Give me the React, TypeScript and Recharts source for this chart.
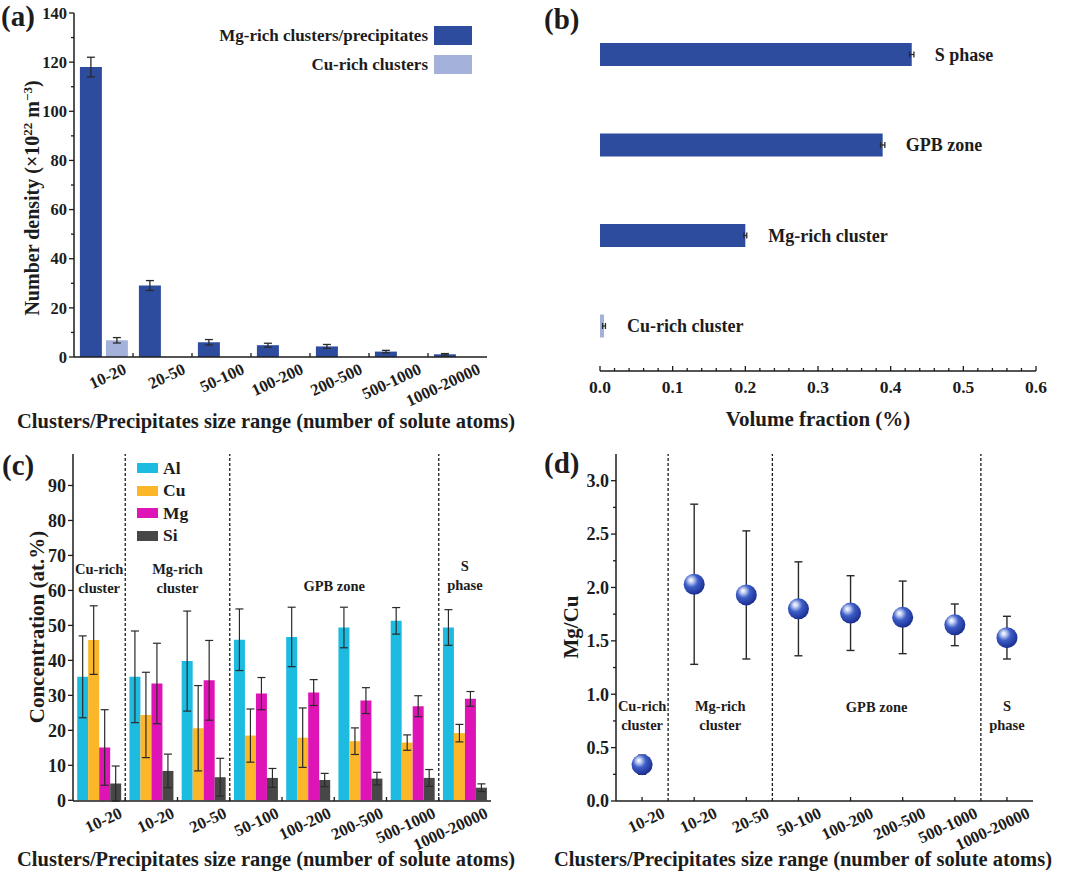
import React from 'react';
import {
  BarChart, Bar, XAxis, YAxis, ErrorBar, Cell, Legend, ReferenceLine,
  ReferenceArea, ComposedChart, Line, LabelList,
} from 'recharts';

const SERIF = '"Liberation Serif", "Times New Roman", Times, serif';
const INK = '#1c1c1c';
const ERR = '#2a2a2a';

// ---------- Panel (a) ----------
const sizeRanges = ['10-20', '20-50', '50-100', '100-200', '200-500', '500-1000', '1000-20000'];
const mgRichDensity = [118, 29.1, 6.0, 4.8, 4.3, 2.2, 1.1];
const mgRichDensityErr = [4.0, 2.0, 1.1, 0.8, 0.8, 0.5, 0.3];
const cuRichDensity = [6.8, null, null, null, null, null, null];
const cuRichDensityErr = [1.1, null, null, null, null, null, null];
const densityTicks = [0, 10, 20, 30, 40, 50, 60, 70, 80, 90, 100, 110, 120, 130, 140];
const densitySeriesOrder = ['Mg-rich clusters/precipitates', 'Cu-rich clusters'];

// ---------- Panel (b) ----------
const phaseNames = ['S phase', 'GPB zone', 'Mg-rich cluster', 'Cu-rich cluster'];
const volumeFraction = [0.429, 0.389, 0.2, 0.0055];
const volumeFractionErr = [0.003, 0.003, 0.002, 0.002];
const fractionTicks = [0, 0.02, 0.04, 0.06, 0.08, 0.1, 0.12, 0.14, 0.16, 0.18, 0.2, 0.22, 0.24, 0.26, 0.28, 0.3,
  0.32, 0.34, 0.36, 0.38, 0.4, 0.42, 0.44, 0.46, 0.48, 0.5, 0.52, 0.54, 0.56, 0.58, 0.6];

// ---------- Panel (c) ----------
const groupIds = ['g1', 'g2', 'g3', 'g4', 'g5', 'g6', 'g7', 'g8'];
const groupLabels = ['10-20', '10-20', '20-50', '50-100', '100-200', '200-500', '500-1000', '1000-20000'];
const alConc = [35.3, 35.3, 39.8, 45.9, 46.7, 49.4, 51.3, 49.4];
const alConcErr = [11.7, 13.1, 14.3, 8.8, 8.5, 5.8, 3.8, 5.1];
const cuConc = [45.8, 24.4, 20.6, 18.5, 17.9, 16.9, 16.5, 19.2];
const cuConcErr = [9.8, 12.2, 12.2, 7.6, 8.5, 3.8, 2.2, 2.5];
const mgConc = [15.1, 33.4, 34.3, 30.5, 30.8, 28.5, 26.9, 29.0];
const mgConcErr = [10.8, 11.5, 11.4, 4.6, 3.7, 3.7, 3.0, 2.1];
const siConc = [4.8, 8.4, 6.6, 6.4, 5.8, 6.2, 6.4, 3.6];
const siConcErr = [5.0, 4.8, 5.4, 2.7, 1.9, 1.8, 2.4, 1.1];
const concTicks = [0, 10, 20, 30, 40, 50, 60, 70, 80, 90];
const elementOrder = ['Al', 'Cu', 'Mg', 'Si'];

// ---------- Panel (d) ----------
const mgCuRatio = [0.34, 2.03, 1.93, 1.8, 1.76, 1.72, 1.65, 1.53];
const mgCuRatioErr = [0.09, 0.75, 0.6, 0.44, 0.35, 0.34, 0.195, 0.2];
const ratioTicks = [0, 0.25, 0.5, 0.75, 1, 1.25, 1.5, 1.75, 2, 2.25, 2.5, 2.75, 3];

// ---------- Regions (c, d) ----------
const regionLines = [['Cu-rich', 'cluster'], ['Mg-rich', 'cluster'], ['GPB zone'], ['S', 'phase']];
const regionFirst = ['g1', 'g2', 'g4', 'g8'];
const regionLast = ['g1', 'g3', 'g7', 'g8'];
const regionDividers = ['g2', 'g4', 'g8'];

// colours
const MG_BLUE = '#2D4C9E';
const CU_BLUE = '#A4B1DB';
const AL_C = '#1DBBE0';
const CU_C = '#FBB62A';
const MG_C = '#DF14B6';
const SI_C = '#474747';

const densityData = sizeRanges.map((r, i) => ({
  range: r, mg: mgRichDensity[i], mgErr: mgRichDensityErr[i], cu: cuRichDensity[i], cuErr: cuRichDensityErr[i],
}));
const fractionData = phaseNames.map((p, i) => ({ phase: p, vf: volumeFraction[i], vfErr: volumeFractionErr[i] }));
const concData = groupIds.map((g, i) => ({
  id: g, al: alConc[i], alErr: alConcErr[i], cu: cuConc[i], cuErr: cuConcErr[i],
  mg: mgConc[i], mgErr: mgConcErr[i], si: siConc[i], siErr: siConcErr[i],
}));
const ratioData = groupIds.map((g, i) => ({ id: g, r: mgCuRatio[i], rErr: mgCuRatioErr[i] }));

const axisLine = { stroke: INK, strokeWidth: 1.5 };
const txt = { fontFamily: SERIF, fontWeight: 'bold' as const, fill: INK };

const sortBy = (order: string[]) => (a: any, b: any) => order.indexOf(a.value) - order.indexOf(b.value);

// ---------- tick renderers ----------
const makeYTick = (o: { isMajor: (v: number) => boolean; fmt: (v: number) => string; fontSize: number; gap: number }) =>
  (props: any) => {
    const { x, y, payload } = props;
    const v = payload.value;
    const major = o.isMajor(v);
    return (
      <g>
        <line x1={x} x2={x - (major ? 5 : 3)} y1={y} y2={y} stroke={INK} strokeWidth={1.3} />
        {major && (
          <text x={x - o.gap} y={y} dy="0.35em" textAnchor="end" fontSize={o.fontSize} {...txt}>{o.fmt(v)}</text>
        )}
      </g>
    );
  };

const makeCatTick = (labels: string[] | null, tickAt: 'boundary' | 'center') => (props: any) => {
  const { x, y, payload, index } = props;
  const i = payload && typeof payload.index === 'number' ? payload.index : index;
  const off = payload && typeof payload.offset === 'number' ? payload.offset : 0;
  const label = labels ? labels[i] : payload.value;
  const tx = tickAt === 'boundary' ? x - off : x;
  const showTick = tickAt === 'center' || i > 0;
  const ax = x + 24;
  const ay = y + 16;
  return (
    <g>
      {showTick && <line x1={tx} x2={tx} y1={y} y2={y - 4} stroke={INK} strokeWidth={1.3} />}
      <text x={ax} y={ay} textAnchor="end" transform={`rotate(-25 ${ax} ${ay})`} fontSize={16.5} {...txt}>{label}</text>
    </g>
  );
};

const fractionTick = (props: any) => {
  const { x, y, payload } = props;
  const v = payload.value;
  const major = Math.abs(v * 10 - Math.round(v * 10)) < 1e-6;
  return (
    <g>
      <line x1={x} x2={x} y1={y} y2={y - (major ? 5 : 3)} stroke={INK} strokeWidth={1.3} />
      {major && <text x={x} y={y + 22} textAnchor="middle" fontSize={17.5} {...txt}>{v.toFixed(1)}</text>}
    </g>
  );
};

const phaseTick = (props: any) => {
  const { x, y, payload } = props;
  const off = payload && typeof payload.offset === 'number' ? payload.offset : 0;
  const i = payload && typeof payload.index === 'number' ? payload.index : 0;
  return (
    <g>
      <line x1={x} x2={x + 3} y1={y} y2={y} stroke={INK} strokeWidth={1.5} />
      {i > 0 && <line x1={x} x2={x + 3} y1={y - off} y2={y - off} stroke={INK} strokeWidth={1.5} />}
    </g>
  );
};

// ---------- titles (positions in chart pixels) ----------
const xTitle = (text: string, cx: number, baseline: number, size = 20.5) => () => (
  <text x={cx} y={baseline} textAnchor="middle" fontSize={size} {...txt}>{text}</text>
);

const yTitle = (content: React.ReactNode, bx: number, cy: number, size = 21) => () => (
  <text x={bx} y={cy} textAnchor="middle" transform={`rotate(-90 ${bx} ${cy})`} fontSize={size} {...txt}>{content}</text>
);

const regionLabel = (lines: string[]) => (p: any) => {
  const vb = p.viewBox || {};
  const cx = vb.x + (vb.width || 0) / 2;
  const cy = vb.y + (vb.height || 0) / 2;
  if (lines.length === 1) {
    return <text x={cx} y={cy} dy={5} textAnchor="middle" fontSize={14.5} {...txt}>{lines[0]}</text>;
  }
  return (
    <text textAnchor="middle" fontSize={14.5} {...txt}>
      <tspan x={cx} y={cy - 4.5}>{lines[0]}</tspan>
      <tspan x={cx} y={cy + 14}>{lines[1]}</tspan>
    </text>
  );
};

const Sphere = (props: any) => {
  const { cx, cy, index } = props;
  if (cx == null || cy == null) return <g key={`s${index}`} />;
  const id = `sph${index}`;
  return (
    <g key={`s${index}`}>
      <defs>
        <radialGradient id={id} cx="40%" cy="36%" r="68%" fx="34%" fy="30%">
          <stop offset="0%" stopColor="#ffffff" />
          <stop offset="16%" stopColor="#c9d4f3" />
          <stop offset="46%" stopColor="#3d5ec8" />
          <stop offset="100%" stopColor="#17298a" />
        </radialGradient>
      </defs>
      <circle cx={cx} cy={cy} r={10.5} fill={`url(#${id})`} />
    </g>
  );
};

// ---------- panels ----------
function PanelA() {
  return (
    <BarChart width={540} height={440} data={densityData} margin={{ top: 13, right: 53, bottom: 0, left: 0 }}
      barCategoryGap="10%" barGap={4}>
      <XAxis dataKey="range" height={83} interval={0} tickLine={false} tickSize={0} tickMargin={0}
        axisLine={axisLine} tick={makeCatTick(null, 'boundary')}
        label={{ content: xTitle('Clusters/Precipitates size range (number of solute atoms)', 266, 428) }} />
      <XAxis xAxisId="top" orientation="top" dataKey="range" height={0} tick={false} tickLine={false} axisLine={axisLine} />
      <YAxis width={74} domain={[0, 140]} ticks={densityTicks} interval={0} tickSize={0} tickMargin={0}
        tickLine={false} axisLine={axisLine}
        tick={makeYTick({ isMajor: (v) => v % 20 === 0, fmt: (v) => String(v), fontSize: 16.5, gap: 7 })}
        label={{
          content: yTitle(
            <>
              Number density (×10
              <tspan baselineShift="7" fontSize={13}>22</tspan>
              {' m'}
              <tspan baselineShift="7" fontSize={13}>−3</tspan>
              )
            </>, 39, 198, 20),
        }} />
      <YAxis yAxisId="right" orientation="right" width={0} domain={[0, 140]} tick={false} tickLine={false} axisLine={axisLine} />
      <Bar dataKey="mg" name="Mg-rich clusters/precipitates" fill={MG_BLUE} isAnimationActive={false}>
        <ErrorBar dataKey="mgErr" width={4} stroke={ERR} strokeWidth={1.3} />
      </Bar>
      <Bar dataKey="cu" name="Cu-rich clusters" fill={CU_BLUE} isAnimationActive={false}>
        <ErrorBar dataKey="cuErr" width={4} stroke={ERR} strokeWidth={1.3} />
      </Bar>
      <Legend layout="vertical" align="center" verticalAlign="middle" wrapperStyle={{ top: 21, right: 68 }}
        content={(p: any) => (
          <div style={{ fontFamily: SERIF, fontWeight: 'bold', fontSize: 17, color: INK }}>
            {[...(p.payload || [])].sort(sortBy(densitySeriesOrder)).map((e: any) => (
              <div key={e.value} style={{ display: 'flex', alignItems: 'center', justifyContent: 'flex-end', height: 29 }}>
                <span style={{ marginRight: 6, whiteSpace: 'nowrap' }}>{e.value}</span>
                <span style={{ display: 'inline-block', width: 38, height: 19, background: e.color }} />
              </div>
            ))}
          </div>
        )} />
    </BarChart>
  );
}

function PanelB() {
  return (
    <BarChart width={540} height={440} data={fractionData} layout="vertical"
      margin={{ top: 9, right: 44, bottom: 0, left: 60 }}>
      <XAxis type="number" domain={[0, 0.6]} ticks={fractionTicks} interval={0} height={69}
        tickSize={0} tickMargin={0} tickLine={false} axisLine={axisLine} tick={fractionTick}
        label={{ content: xTitle('Volume fraction (%)', 278, 426, 21) }} />
      <XAxis xAxisId="top" type="number" orientation="top" domain={[0, 0.6]} height={0} tick={false} tickLine={false} axisLine={axisLine} />
      <YAxis type="category" dataKey="phase" width={0} interval={0} tickSize={0} tickMargin={0} tickLine={false}
        axisLine={axisLine} tick={phaseTick} />
      <YAxis yAxisId="right" type="category" dataKey="phase" orientation="right" width={0} tick={false} tickLine={false} axisLine={axisLine} />
      <Bar dataKey="vf" barSize={23} isAnimationActive={false}>
        {fractionData.map((d, i) => (
          <Cell key={d.phase} fill={i === 3 ? CU_BLUE : MG_BLUE} />
        ))}
        <ErrorBar dataKey="vfErr" direction="x" width={3} stroke={ERR} strokeWidth={1.3} />
        <LabelList dataKey="phase" content={(p: any) => {
          const vb = p.viewBox || p;
          return (
            <text x={vb.x + vb.width + 23} y={vb.y + vb.height / 2} dy="0.35em" textAnchor="start" fontSize={18} {...txt}>
              {p.value}
            </text>
          );
        }} />
      </Bar>
    </BarChart>
  );
}

const regionY_C = [63.4, 63.4, 61.3, 64.2];
const regionY_D = [0.8, 0.8, 0.88, 0.8];

function PanelC() {
  return (
    <BarChart width={540} height={432} data={concData} margin={{ top: 14, right: 49, bottom: 0, left: 0 }}
      barCategoryGap="8%" barGap={0}>
      <XAxis dataKey="id" height={71} interval={0} tickLine={false} tickSize={0} tickMargin={0}
        axisLine={axisLine} tick={makeCatTick(groupLabels, 'boundary')}
        label={{ content: xTitle('Clusters/Precipitates size range (number of solute atoms)', 266, 426) }} />
      <XAxis xAxisId="top" orientation="top" dataKey="id" height={0} tick={false} tickLine={false} axisLine={axisLine} />
      <YAxis width={73} domain={[0, 99]} ticks={concTicks} interval={0} tickSize={0} tickMargin={0}
        tickLine={false} axisLine={axisLine}
        tick={makeYTick({ isMajor: () => true, fmt: (v) => String(v), fontSize: 18, gap: 7 })}
        label={{ content: yTitle('Concentration (at.%)', 44, 187) }} />
      <YAxis yAxisId="right" orientation="right" width={0} domain={[0, 99]} tick={false} tickLine={false} axisLine={axisLine} />
      {regionDividers.map((g) => (
        <ReferenceLine key={g} x={g} position="start" stroke={INK} strokeWidth={1.3} strokeDasharray="3 2" ifOverflow="visible" />
      ))}
      {regionLines.map((lines, i) => (
        <ReferenceArea key={i} x1={regionFirst[i]} x2={regionLast[i]} y1={regionY_C[i] - 0.5} y2={regionY_C[i] + 0.5}
          fill="none" stroke="none" ifOverflow="visible" label={{ content: regionLabel(lines) }} />
      ))}
      <Bar dataKey="al" name="Al" fill={AL_C} isAnimationActive={false}>
        <ErrorBar dataKey="alErr" width={4} stroke={ERR} strokeWidth={1.2} />
      </Bar>
      <Bar dataKey="cu" name="Cu" fill={CU_C} isAnimationActive={false}>
        <ErrorBar dataKey="cuErr" width={4} stroke={ERR} strokeWidth={1.2} />
      </Bar>
      <Bar dataKey="mg" name="Mg" fill={MG_C} isAnimationActive={false}>
        <ErrorBar dataKey="mgErr" width={4} stroke={ERR} strokeWidth={1.2} />
      </Bar>
      <Bar dataKey="si" name="Si" fill={SI_C} isAnimationActive={false}>
        <ErrorBar dataKey="siErr" width={4} stroke={ERR} strokeWidth={1.2} />
      </Bar>
      <Legend layout="vertical" align="center" verticalAlign="middle" wrapperStyle={{ top: 17, left: 137 }}
        content={(p: any) => (
          <div style={{ fontFamily: SERIF, fontWeight: 'bold', fontSize: 17.5, color: INK }}>
            {[...(p.payload || [])].sort(sortBy(elementOrder)).map((e: any) => (
              <div key={e.value} style={{ display: 'flex', alignItems: 'center', height: 22.5 }}>
                <span style={{ display: 'inline-block', width: 21, height: 10, background: e.color, marginRight: 5 }} />
                <span>{e.value}</span>
              </div>
            ))}
          </div>
        )} />
    </BarChart>
  );
}

function PanelD() {
  return (
    <ComposedChart width={540} height={432} data={ratioData} margin={{ top: 14, right: 47, bottom: 0, left: 0 }}>
      <XAxis dataKey="id" scale="band" height={71} interval={0} tickLine={false} tickSize={0} tickMargin={0}
        axisLine={axisLine} tick={makeCatTick(groupLabels, 'center')}
        label={{ content: xTitle('Clusters/Precipitates size range (number of solute atoms)', 263, 426) }} />
      <XAxis xAxisId="top" orientation="top" dataKey="id" scale="band" height={0} tick={false} tickLine={false} axisLine={axisLine} />
      <YAxis width={76} domain={[0, 3.25]} ticks={ratioTicks} interval={0} tickSize={0} tickMargin={0}
        tickLine={false} axisLine={axisLine}
        tick={makeYTick({ isMajor: (v) => Math.abs(v * 2 - Math.round(v * 2)) < 1e-6, fmt: (v) => v.toFixed(1), fontSize: 18, gap: 7 })}
        label={{ content: yTitle('Mg/Cu', 38, 187) }} />
      <YAxis yAxisId="right" orientation="right" width={0} domain={[0, 3.25]} tick={false} tickLine={false} axisLine={axisLine} />
      {regionDividers.map((g) => (
        <ReferenceLine key={g} x={g} position="start" stroke={INK} strokeWidth={1.3} strokeDasharray="3 2" ifOverflow="visible" />
      ))}
      {regionLines.map((lines, i) => (
        <ReferenceArea key={i} x1={regionFirst[i]} x2={regionLast[i]} y1={regionY_D[i] - 0.01} y2={regionY_D[i] + 0.01}
          fill="none" stroke="none" ifOverflow="visible" label={{ content: regionLabel(lines) }} />
      ))}
      <Line dataKey="r" stroke="none" isAnimationActive={false} activeDot={false}
        dot={(p: any) => <Sphere key={`d${p.index}`} {...p} />}>
        <ErrorBar dataKey="rErr" direction="y" width={4} stroke={ERR} strokeWidth={1.4} />
      </Line>
    </ComposedChart>
  );
}

export default function App() {
  const abs = (l: number, t: number): React.CSSProperties => ({ position: 'absolute', left: l, top: t });
  return (
    <div style={{ position: 'absolute', left: 0, top: 0, width: 1080, height: 872, background: '#fff', overflow: 'hidden' }}>
      <div style={abs(0, 0)}><PanelA /></div>
      <div style={abs(540, 0)}><PanelB /></div>
      <div style={abs(0, 440)}><PanelC /></div>
      <div style={abs(540, 440)}><PanelD /></div>
      <svg width={1080} height={872} style={{ position: 'absolute', left: 0, top: 0, pointerEvents: 'none' }}>
        <text x={1} y={26} fontSize={29} {...txt}>(a)</text>
        <text x={544} y={29} fontSize={29} {...txt}>(b)</text>
        <text x={2} y={475} fontSize={29} {...txt}>(c)</text>
        <text x={544} y={473} fontSize={29} {...txt}>(d)</text>
      </svg>
    </div>
  );
}
